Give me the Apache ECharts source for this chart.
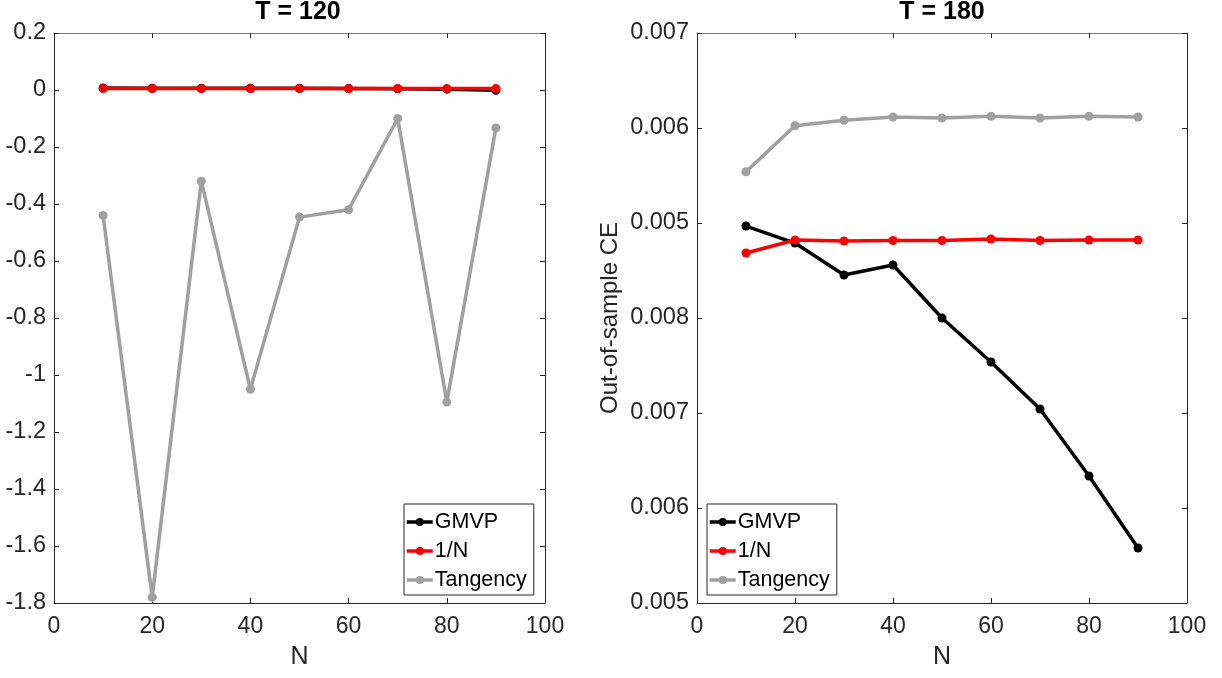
<!DOCTYPE html>
<html>
<head>
<meta charset="utf-8">
<script src="https://cdn.jsdelivr.net/npm/echarts@6/dist/echarts.min.js"></script>
<style>html,body{margin:0;padding:0;background:#fff;}#c{width:1222px;height:678px;}</style>
</head>
<body>
<div id="c"></div>
<script>
// ---------- data ----------
const N = [10, 20, 30, 40, 50, 60, 70, 80, 90];

// Left panel: T = 120
const leftGMVP      = [0.007, 0.006, 0.006, 0.006, 0.006, 0.005, 0.004, 0.003, -0.001];
const leftOneOverN  = [0.005, 0.005, 0.005, 0.005, 0.005, 0.005, 0.005, 0.005, 0.005];
const leftTangency  = [-0.44, -1.78, -0.32, -1.05, -0.446, -0.42, -0.10, -1.095, -0.133];

// Right panel: T = 180 (values in tick-position units; tick labels as printed in the original)
const rightYTickLabels = ['0.005', '0.006', '0.007', '0.008', '0.005', '0.006', '0.007'];
const rightGMVP     = [3.968, 3.789, 3.453, 3.558, 3.000, 2.537, 2.042, 1.337, 0.579];
const rightOneOverN = [3.684, 3.821, 3.811, 3.816, 3.816, 3.832, 3.816, 3.821, 3.821];
const rightTangency = [4.540, 5.024, 5.081, 5.116, 5.105, 5.123, 5.105, 5.123, 5.116];

const seriesNames = ['GMVP', '1/N', 'Tangency'];
const seriesColors = ['#000000', '#ff0000', '#a0a0a0'];
// ---------------------------

const AX = '#262626';
const FONT = 'Liberation Sans, Arial, sans-serif';
const pairs = arr => N.map((n, i) => [n, arr[i]]);

function xAxisMain(gi) {
  return {
    type: 'value', gridIndex: gi, min: 0, max: 100, interval: 20,
    name: 'N', nameLocation: 'middle', nameGap: 42,
    nameTextStyle: { fontFamily: FONT, fontSize: 25, color: AX },
    axisLine: { onZero: false, lineStyle: { color: AX, width: 1 } },
    axisTick: { inside: true, length: 5, lineStyle: { color: AX } },
    axisLabel: { fontFamily: FONT, fontSize: 23, color: AX, margin: 12 },
    splitLine: { show: false }
  };
}
function xAxisTop(gi) {
  return {
    type: 'value', gridIndex: gi, position: 'top', min: 0, max: 100, interval: 20,
    axisLine: { onZero: false, lineStyle: { color: '#7a7a7a', width: 1 } },
    axisTick: { inside: true, length: 5, lineStyle: { color: AX } },
    axisLabel: { show: false }, splitLine: { show: false }
  };
}

const leftYFmt = v => {
  const r = Math.round(v * 10) / 10;
  return r === 0 ? '0' : String(r);
};

function legendFor(left) {
  return {
    left: left, top: 504, orient: 'vertical', data: seriesNames,
    backgroundColor: '#fff', borderColor: AX, borderWidth: 1, borderRadius: 0,
    padding: [7, 7, 4, 1], itemGap: 7, itemWidth: 26, itemHeight: 10,
    lineStyle: { width: 3.5 },
    textStyle: { fontFamily: FONT, fontSize: 21.5, lineHeight: 21, color: '#000', padding: [0, 0, 0, -3] }
  };
}

const option = {
  backgroundColor: '#ffffff',
  animation: false,
  title: [
    { text: 'T = 120', left: 298, top: 0, padding: 0, textAlign: 'center',
      textStyle: { fontFamily: FONT, fontSize: 25, fontWeight: 'bold', color: '#000' } },
    { text: 'T = 180', left: 942, top: 0, padding: 0, textAlign: 'center',
      textStyle: { fontFamily: FONT, fontSize: 25, fontWeight: 'bold', color: '#000' } }
  ],
  grid: [
    { left: 54, top: 33, width: 491, height: 570, containLabel: false },
    { left: 697, top: 33, width: 490, height: 570, containLabel: false }
  ],
  xAxis: [xAxisMain(0), xAxisTop(0), xAxisMain(1), xAxisTop(1)],
  yAxis: [
    { type: 'value', gridIndex: 0, min: -1.8, max: 0.2, interval: 0.2,
      axisLine: { show: true, onZero: false, lineStyle: { color: AX } },
      axisTick: { show: true, inside: true, length: 5, lineStyle: { color: AX } },
      axisLabel: { fontFamily: FONT, fontSize: 23.5, color: AX, margin: 8, formatter: leftYFmt },
      splitLine: { show: false } },
    { type: 'value', gridIndex: 0, position: 'right', min: -1.8, max: 0.2, interval: 0.2,
      axisLine: { show: true, onZero: false, lineStyle: { color: AX } },
      axisTick: { show: true, inside: true, length: 5, lineStyle: { color: AX } },
      axisLabel: { show: false }, splitLine: { show: false } },
    { type: 'value', gridIndex: 1, min: 0, max: 6, interval: 1,
      name: 'Out-of-sample CE', nameLocation: 'middle', nameGap: 75, nameRotate: 90,
      nameTextStyle: { fontFamily: FONT, fontSize: 24, color: AX },
      axisLine: { show: true, onZero: false, lineStyle: { color: AX } },
      axisTick: { show: true, inside: true, length: 5, lineStyle: { color: AX } },
      axisLabel: { fontFamily: FONT, fontSize: 23.5, color: AX, margin: 8,
        formatter: v => rightYTickLabels[Math.round(v)] },
      splitLine: { show: false } },
    { type: 'value', gridIndex: 1, position: 'right', min: 0, max: 6, interval: 1,
      axisLine: { show: true, onZero: false, lineStyle: { color: AX } },
      axisTick: { show: true, inside: true, length: 5, lineStyle: { color: AX } },
      axisLabel: { show: false }, splitLine: { show: false } }
  ],
  legend: [legendFor(404), legendFor(707)],
  series: []
};

const leftData = [leftGMVP, leftOneOverN, leftTangency];
const rightData = [rightGMVP, rightOneOverN, rightTangency];
[0, 1, 2].forEach(i => {
  [[0, 0, leftData], [2, 2, rightData]].forEach(([xi, yi, d]) => {
    option.series.push({
      name: seriesNames[i], type: 'line', xAxisIndex: xi, yAxisIndex: yi,
      data: pairs(d[i]), color: seriesColors[i],
      symbol: 'circle', symbolSize: 9, showSymbol: true,
      lineStyle: { width: 3.5, color: seriesColors[i] },
      itemStyle: { color: seriesColors[i] },
      z: 2 + i
    });
  });
});

const chart = echarts.init(document.getElementById('c'), null, { renderer: 'canvas' });
chart.setOption(option);
</script>
</body>
</html>
